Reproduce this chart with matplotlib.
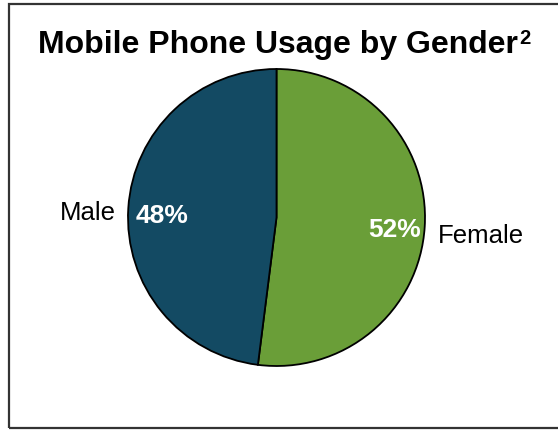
import matplotlib
matplotlib.use("Agg")
import matplotlib.pyplot as plt
from matplotlib.patches import Rectangle

labels = ["Female", "Male"]
shares = [52, 48]
colors = ["#6a9e38", "#134a63"]
title = "Mobile Phone Usage by Gender"
footnote = "2"

W, H = 558, 431
fig = plt.figure(figsize=(W / 100, H / 100), dpi=100)
plt.rcParams['font.family'] = ['Liberation Sans', 'DejaVu Sans']

# frame around the whole chart, open on the right
fig.patches.append(Rectangle((9 / W, 2 / H), 1.2, (H - 7) / H, transform=fig.transFigure,
                             fill=False, edgecolor="#333333", linewidth=1.6))

# title plus a raised footnote marker, centred together inside the frame
r = fig.canvas.get_renderer()
t = fig.text(0, 1 - 45 / H, title, ha="left", va="center", fontsize=23, fontweight="bold")
s = fig.text(0, 1 - 38 / H, footnote, ha="left", va="center", fontsize=14.5, fontweight="bold")
tw = t.get_window_extent(r).width
sw = s.get_window_extent(r).width
x0 = (W + 10 - tw - sw) / 2
t.set_x(x0 / W)
s.set_x((x0 + tw + 0.5) / W)

ax = fig.add_axes([128 / W, 64 / H, 297 / W, 297 / H])
ax.set_aspect("equal")
wedges, _ = ax.pie(shares, colors=colors, startangle=90, counterclock=False,
                   wedgeprops=dict(edgecolor="black", linewidth=1.3))
ax.set_xlim(-1, 1)
ax.set_ylim(-1, 1)

# percentages inside the slices, names outside
ax.text(0.97, -0.08, f"{shares[0]}%", ha="right", va="center", color="white",
        fontsize=19, fontweight="bold")
ax.text(-0.95, 0.02, f"{shares[1]}%", ha="left", va="center", color="white",
        fontsize=19, fontweight="bold")
ax.text(1.09, -0.115, labels[0], ha="left", va="center", fontsize=18.5)
ax.text(-1.08, 0.04, labels[1], ha="right", va="center", fontsize=18.5)

fig.savefig("out.png", dpi=100)
